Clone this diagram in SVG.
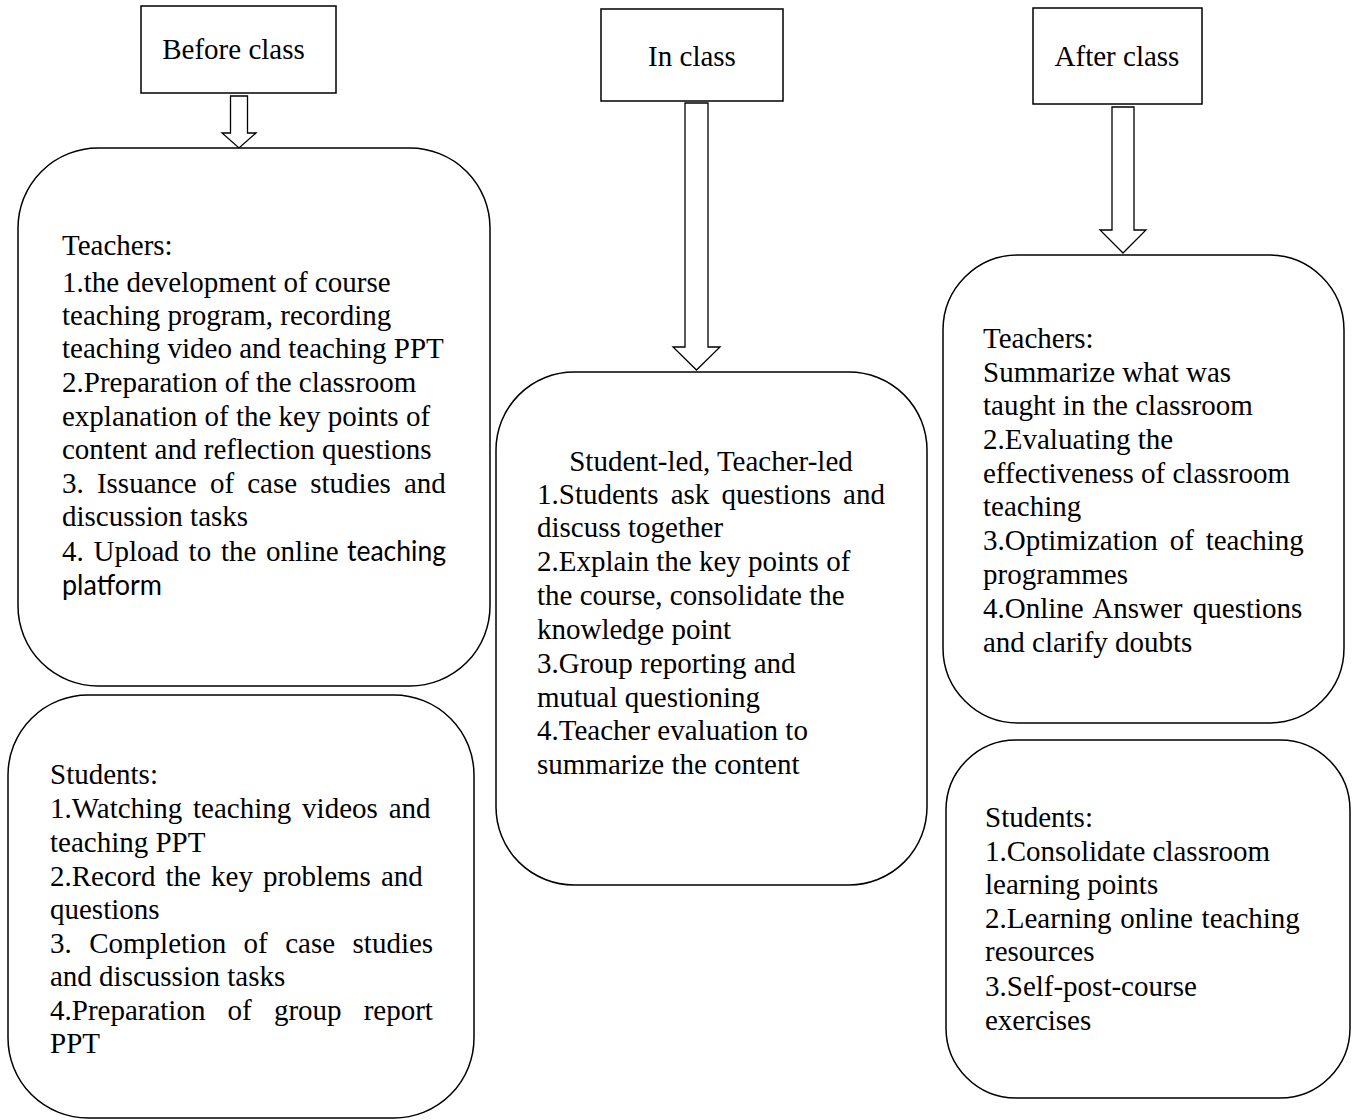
<svg xmlns="http://www.w3.org/2000/svg" width="1354" height="1120" viewBox="0 0 1354 1120">
<style>
.box{fill:#fff;stroke:#000;stroke-width:1.5}
.arrow{fill:#fff;stroke:#000;stroke-width:1.3;stroke-linejoin:miter}
text{font-family:"Liberation Serif","Times New Roman",serif;font-size:29px;fill:#000}
.sans{font-family:Lato,"Open Sans","Liberation Sans",sans-serif}
.hdr{text-anchor:middle}
</style>
<rect width="1354" height="1120" fill="#fff"/>
<g id="connectors">
<polygon class="arrow" points="230.5,96 247.5,96 247.5,133 256,133 239,148 222,133 230.5,133"/>
<polygon class="arrow" points="685,103 708,103 708,347 720,347 696.5,370 673,347 685,347"/>
<polygon class="arrow" points="1112,107 1134,107 1134,230 1146,230 1123,253 1100,230 1112,230"/>
</g>
<g id="before-class">
<rect class="box" x="141" y="6" width="195" height="87"/>
<text class="hdr" x="233.5" y="59">Before class</text>
</g>
<g id="in-class">
<rect class="box" x="601" y="9" width="182" height="92"/>
<text class="hdr" x="692" y="66">In class</text>
</g>
<g id="after-class">
<rect class="box" x="1033" y="8" width="169" height="96"/>
<text class="hdr" x="1117" y="66">After class</text>
</g>
<g id="before-teachers">
<rect class="box" x="18" y="148" width="472" height="538" rx="80" ry="80"/>
<text x="62" y="255">Teachers:</text>
<text x="62" y="292">1.the development of course</text>
<text x="62" y="325">teaching program, recording</text>
<text x="62" y="358">teaching video and teaching PPT</text>
<text x="62" y="392">2.Preparation of the classroom</text>
<text x="62" y="426">explanation of the key points of</text>
<text x="62" y="459">content and reflection questions</text>
<text x="62" y="493" word-spacing="5.9">3. Issuance of case studies and</text>
<text x="62" y="526">discussion tasks</text>
<text x="62" y="561" word-spacing="2.5">4. Upload to the online</text>
<text class="sans" x="347" y="561" textLength="99" lengthAdjust="spacingAndGlyphs">teaching</text>
<text class="sans" x="62" y="595" textLength="100" lengthAdjust="spacingAndGlyphs">platform</text>
</g>
<g id="before-students">
<rect class="box" x="8" y="695" width="466" height="423" rx="80" ry="80"/>
<text x="50" y="784">Students:</text>
<text x="50" y="818" word-spacing="3.6">1.Watching teaching videos and</text>
<text x="50" y="852">teaching PPT</text>
<text x="50" y="886" word-spacing="2.8">2.Record the key problems and</text>
<text x="50" y="919">questions</text>
<text x="50" y="953" word-spacing="10.2">3. Completion of case studies</text>
<text x="50" y="986">and discussion tasks</text>
<text x="50" y="1020" word-spacing="14.9">4.Preparation of group report</text>
<text x="50" y="1053">PPT</text>
</g>
<g id="in-class-content">
<rect class="box" x="496" y="372" width="431" height="513" rx="78" ry="78"/>
<text class="hdr" x="711" y="471">Student-led, Teacher-led</text>
<text x="537" y="504" word-spacing="4.8">1.Students ask questions and</text>
<text x="537" y="537">discuss together</text>
<text x="537" y="571">2.Explain the key points of</text>
<text x="537" y="605">the course, consolidate the</text>
<text x="537" y="639">knowledge point</text>
<text x="537" y="673">3.Group reporting and</text>
<text x="537" y="707">mutual questioning</text>
<text x="537" y="740">4.Teacher evaluation to</text>
<text x="537" y="774">summarize the content</text>
</g>
<g id="after-teachers">
<rect class="box" x="943" y="255" width="401" height="468" rx="75" ry="75"/>
<text x="983" y="348">Teachers:</text>
<text x="983" y="382">Summarize what was</text>
<text x="983" y="415">taught in the classroom</text>
<text x="983" y="449">2.Evaluating the</text>
<text x="983" y="483">effectiveness of classroom</text>
<text x="983" y="516">teaching</text>
<text x="983" y="550" word-spacing="4.6">3.Optimization of teaching</text>
<text x="983" y="584">programmes</text>
<text x="983" y="618" word-spacing="3">4.Online Answer questions</text>
<text x="983" y="652">and clarify doubts</text>
</g>
<g id="after-students">
<rect class="box" x="946" y="740" width="404" height="358" rx="70" ry="70"/>
<text x="985" y="827">Students:</text>
<text x="985" y="861">1.Consolidate classroom</text>
<text x="985" y="894">learning points</text>
<text x="985" y="928" word-spacing="1.6">2.Learning online teaching</text>
<text x="985" y="961">resources</text>
<text x="985" y="996">3.Self-post-course</text>
<text x="985" y="1030">exercises</text>
</g>
</svg>
